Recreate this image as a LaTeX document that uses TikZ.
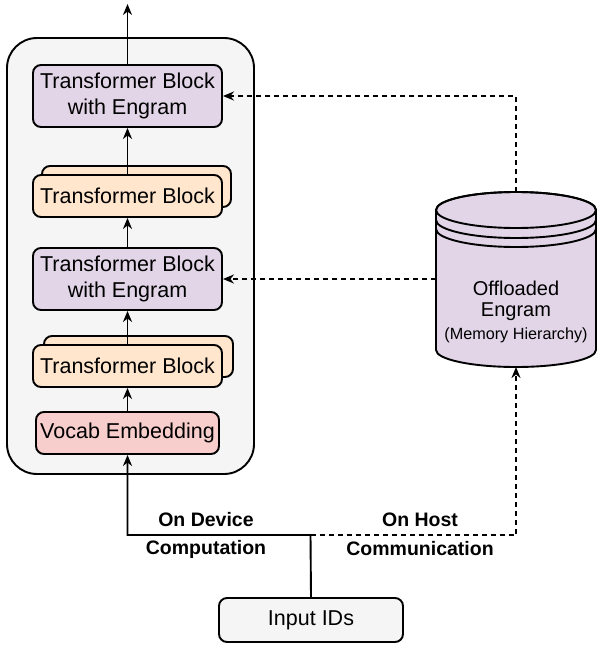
\documentclass[tikz,border=0pt]{standalone}
\usepackage{fontspec}
\setmainfont{Liberation Sans}
\usetikzlibrary{arrows.meta}
\definecolor{purp}{HTML}{E1D5E7}
\definecolor{oran}{HTML}{FFE6CC}
\definecolor{redd}{HTML}{F8CECC}
\definecolor{grayf}{HTML}{F5F5F5}
\begin{document}
\begin{tikzpicture}[x=1pt,y=-1pt,line width=1.9pt,
  blk/.style={draw,rounded corners=8pt,minimum width=189pt,inner sep=0pt,align=center,
    font=\fontsize{21.5}{25.5}\selectfont},
  arr/.style={-{Stealth[length=11pt,width=9pt,inset=3.5pt]}},
  dsh/.style={dash pattern=on 5pt off 4pt},
  lbl/.style={font=\fontsize{19.5}{22}\selectfont\bfseries},
  ctx/.style={inner sep=0pt,font=\fontsize{20}{24}\selectfont}]
\useasboundingbox (0,0) rectangle (597,645);
% container
\draw[fill=grayf,rounded corners=30pt] (7,38) rectangle (254,474);
% blocks
\node[blk,fill=purp,minimum height=62pt] (b1) at (127.5,96) {Transformer Block\\with Engram};
\node[blk,fill=oran,minimum height=41pt] (b2back) at (136.5,186.5) {};
\node[blk,fill=oran,minimum height=42pt] (b2) at (127.5,196) {Transformer Block};
\node[blk,fill=purp,minimum height=62pt] (b3) at (127.5,279) {Transformer Block\\with Engram};
\node[blk,fill=oran,minimum height=41pt] (b4back) at (138.5,356.5) {};
\node[blk,fill=oran,minimum height=42pt] (b4) at (127.5,366) {Transformer Block};
\node[blk,fill=redd,minimum height=42pt,minimum width=183pt] (voc) at (127.5,433) {Vocab Embedding};
\node[blk,fill=grayf,minimum height=44pt,minimum width=184pt] (inp) at (311,620) {Input IDs};
% cylinder
\draw[fill=purp] (436,210) -- (436,350) arc[start angle=180,end angle=360,x radius=80pt,y radius=17pt]
  -- (596,210) arc[start angle=0,end angle=180,x radius=80pt,y radius=18pt] -- cycle;
\draw (516,210) ellipse[x radius=80pt,y radius=18pt];
\draw (436,220) arc[start angle=180,end angle=360,x radius=80pt,y radius=18pt];
\draw (436,229) arc[start angle=180,end angle=360,x radius=80pt,y radius=18pt];
\node[ctx] (cyl1) at (516,288) {Offloaded};
\node[ctx] (cyl2) at (516,312) {Engram};
\node[ctx,font=\fontsize{16.2}{20}\selectfont] (cyl3) at (516,335) {(Memory Hierarchy)};
\coordinate (cyltop) at (516,192);
\coordinate (cylleft) at (436,279);
\coordinate (cylbot) at (516,367);
\coordinate (top) at (127.5,4);
\coordinate (J) at (310.5,535);
\coordinate (JL) at (127.5,535);
\coordinate (JR) at (516,535);
% solid arrows
\draw[arr] (b1.north) -- (top);
\draw[arr] (b2.north) -- (b1.south);
\draw[arr] (b3.north) -- (b2.south);
\draw[arr] (b4.north) -- (b3.south);
\draw[arr] (voc.north) -- (b4.south);
\draw[arr] (inp.north) -- (J) -- (JL) -- (voc.south);
% dashed
\draw[arr,dsh] (J) -- (JR) -- (cylbot);
\draw[arr,dsh] (cyltop) |- (b1.east);
\draw[arr,dsh] (cylleft) -- (b3.east);
% labels
\node[lbl] (l1) at (206,520) {On Device};
\node[lbl] (l2) at (206,549) {Computation};
\node[lbl] (l3) at (420,520) {On Host};
\node[lbl] (l4) at (420,549) {Communication};
\end{tikzpicture}
\end{document}
